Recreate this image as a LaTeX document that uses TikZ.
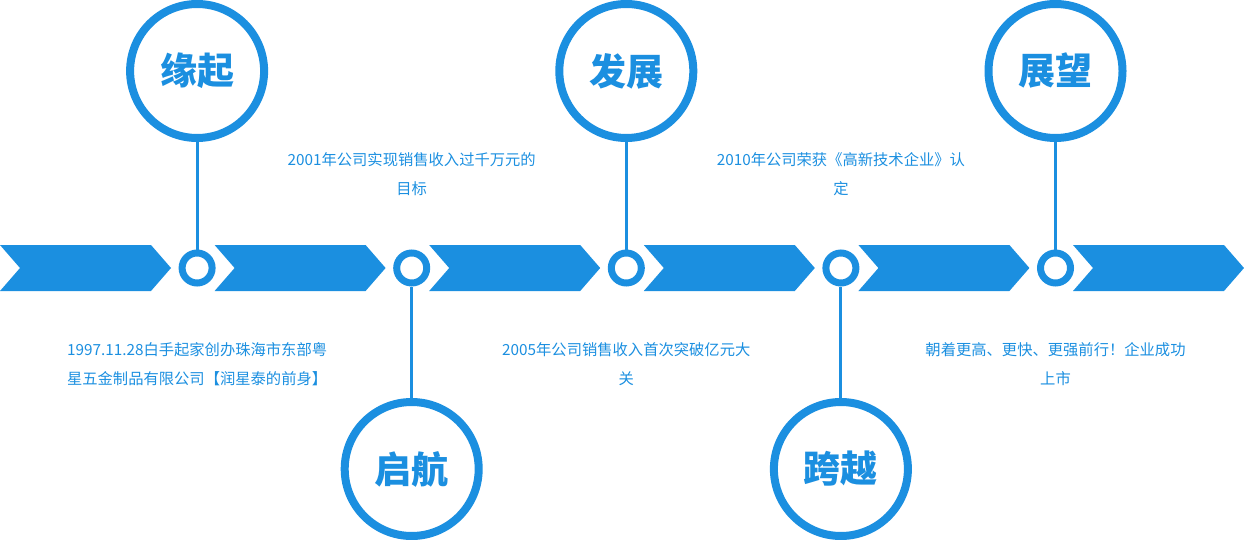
\documentclass[tikz,border=0pt]{standalone}
\usepackage{fontspec}
\usepackage{xcolor}
\newfontfamily\cjk{Noto Sans CJK SC}
\definecolor{lineblue}{RGB}{27,143,224}
\usetikzlibrary{calc}

\tikzset{
	dot/.style={circle, draw=lineblue, line width=7pt, fill=white, minimum size=30pt, inner sep=0pt},
	bigring/.style={circle, draw=lineblue, line width=8pt, fill=white, minimum size=134pt, inner sep=0pt,
		text=lineblue, font=\cjk\bfseries\fontsize{37}{40}\selectfont},
	note/.style={text=lineblue, align=center, font=\cjk\fontsize{15.3}{29}\selectfont},
}

\begin{document}
\begin{tikzpicture}[x=1pt, y=-1pt]
			\def\gap{214.6};
			\def\top{245};
			\def\bot{291};

			\useasboundingbox (0,0) rectangle (1244,540);

			% arrow band
			\begin{scope}
				\foreach \i in {0,...,5} {
					\fill[lineblue] ({\i*\gap},\top) -- ++(151,0) -- ++(20,23) -- ++(-20,23)
						-- ++(-151,0) -- ++(20,-23) -- cycle;
				}
			\end{scope}

			% milestones
			\begin{scope}
				\foreach \i/\name in {1/缘起, 3/发展, 5/展望} {
					\node[bigring] (ring\i) at ({\i*\gap-17.5},71) {\name};
				}
				\foreach \i/\name in {2/启航, 4/跨越} {
					\node[bigring] (ring\i) at ({\i*\gap-17.5},469) {\name};
				}
				\foreach \i in {1,...,5} {
					\node[dot] (dot\i) at ({\i*\gap-17.5},268) {};
					\draw[lineblue, line width=3pt] (ring\i) -- (dot\i);
				}
			\end{scope}

			% descriptions
			\begin{scope}
				\node[note] (note1) at ($(dot1)+(0,96)$) {1997.11.28白手起家创办珠海市东部粤\\星五金制品有限公司【润星泰的前身】};
				\node[note] (note2) at ($(dot2)+(0,-94)$) {2001年公司实现销售收入过千万元的\\目标};
				\node[note] (note3) at ($(dot3)+(0,96)$) {2005年公司销售收入首次突破亿元大\\关};
				\node[note] (note4) at ($(dot4)+(0,-94)$) {2010年公司荣获《高新技术企业》认\\定};
				\node[note] (note5) at ($(dot5)+(0,96)$) {朝着更高、更快、更强前行！企业成功\\上市};
			\end{scope}
		\end{tikzpicture}
\end{document}
